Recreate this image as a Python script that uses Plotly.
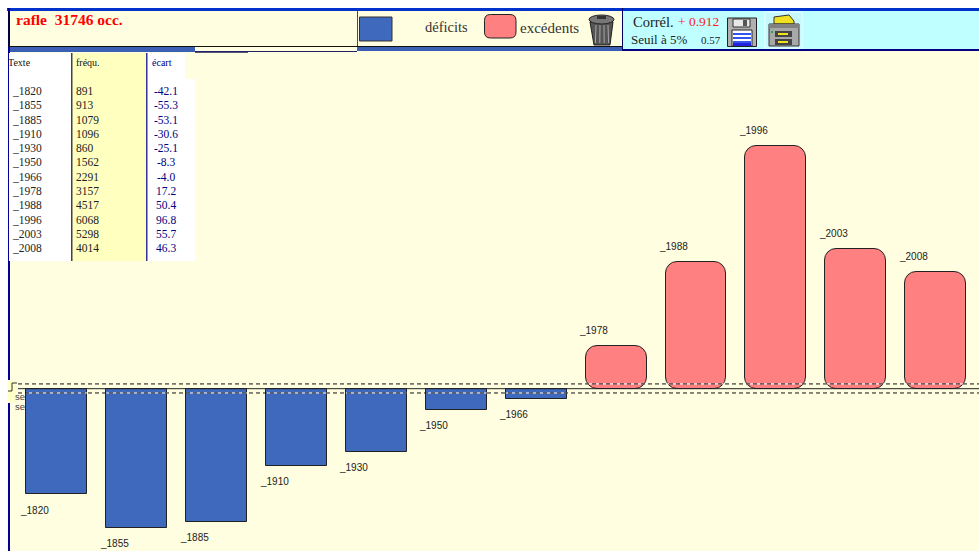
import plotly.graph_objects as go

years = ["_1820","_1855","_1885","_1910","_1930","_1950","_1966","_1978","_1988","_1996","_2003","_2008"]
freq = [891,913,1079,1096,860,1562,2291,3157,4517,6068,5298,4014]
ecart = [-42.1,-55.3,-53.1,-30.6,-25.1,-8.3,-4.0,17.2,50.4,96.8,55.7,46.3]
ecart_text = ["-42.1","-55.3","-53.1","-30.6","-25.1","-8.3","-4.0","17.2","50.4","96.8","55.7","46.3"]
seuil_haut = 1.9
seuil_bas = -1.7

W, H = 979, 551
BLUE, PINK, CREAM, CYAN = "#3F69BC", "#FF8080", "#FFFEE0", "#BFFFFF"
SERIF, SANS = "Liberation Serif", "Liberation Sans"
BAR_W = 0.763

def X(x): return x / W
def Y(y): return 1 - y / H

shapes, annots = [], []

def rect(x0, y0, x1, y1, fill, line=None, lw=1, layer="below"):
    shapes.append(dict(type="rect", xref="paper", yref="paper", x0=X(x0), x1=X(x1), y0=Y(y0), y1=Y(y1),
                       fillcolor=fill, line=dict(color=line or "rgba(0,0,0,0)", width=lw if line else 0), layer=layer))

def path(pts, fill=None, line=None, lw=1, close=True, layer="below"):
    d = "M" + " L".join(f"{X(a):.5f},{Y(b):.5f}" for a, b in pts) + (" Z" if close else "")
    shapes.append(dict(type="path", xref="paper", yref="paper", path=d,
                       fillcolor=fill or "rgba(0,0,0,0)",
                       line=dict(color=line or "rgba(0,0,0,0)", width=lw if line else 0), layer=layer))

def txt(x, y, s, size=10, color="#111", font=SERIF, anchor="left", bold=False):
    annots.append(dict(xref="paper", yref="paper", x=X(x), y=Y(y), text=f"<b>{s}</b>" if bold else s, showarrow=False,
                       xanchor=anchor, yanchor="middle", borderpad=0,
                       font=dict(family=font, size=size, color=color)))

# page and panels
rect(7, 8, W, H, CREAM)
rect(7, 8, W, 11, "#0033CC")
rect(8, 8, 10, 380, "#000099")
rect(8, 403, 10, H, "#000099")
rect(10, 11, 357, 46, CREAM)
rect(8, 11, 10, 47, "#000044")
rect(10, 46, 622, 47, "#111111")
rect(10, 47, 195, 52, "#3B5FB5")
rect(357, 47, 622, 51, "#3B5FB5")
rect(195, 51, 357, 52, "#222266")
rect(357, 11, 358, 46, "#FF0000")
rect(622, 11, W, 49, CYAN)
rect(622, 49, W, 51, "#000080")
rect(622, 8, 623, 51, "#000066")
rect(195, 52, 248, 53, "#555577")

# legend
rect(359.5, 17, 392, 41, BLUE, "#333333", 1)
x0, y0, x1, y1, r = 484.5, 14.5, 516, 38, 6
shapes.append(dict(type="path", xref="paper", yref="paper", fillcolor=PINK, line=dict(color="#222", width=1), layer="below",
    path=f"M{X(x0+r)},{Y(y0)} L{X(x1-r)},{Y(y0)} Q{X(x1)},{Y(y0)} {X(x1)},{Y(y0+r)} L{X(x1)},{Y(y1-r)} Q{X(x1)},{Y(y1)} {X(x1-r)},{Y(y1)} "
         f"L{X(x0+r)},{Y(y1)} Q{X(x0)},{Y(y1)} {X(x0)},{Y(y1-r)} L{X(x0)},{Y(y0+r)} Q{X(x0)},{Y(y0)} {X(x0+r)},{Y(y0)} Z"))
txt(424, 27, "déficits", 14.5, "#333")
txt(519, 28, "excédents", 15, "#333")
txt(15, 20, "rafle\u00a0 31746 occ.", 15.5, "#FF0000", bold=True)
txt(632, 22, "Corrél.", 14.5, "#222")
txt(677, 22, "+ 0.912", 13.5, "#FF2020")
txt(630, 39, "Seuil à 5%", 13, "#222")
txt(700, 40, "0.57", 11, "#222")

# trash icon
path([(590, 22), (613, 22), (610, 45), (594, 45)], "#555555", "#222222")
for vx in (596, 600, 604, 608):
    path([(vx, 25), (vx + (vx - 602) * 0.1, 43)], None, "#A8A8A8", 1, close=False)
shapes.append(dict(type="circle", xref="paper", yref="paper", x0=X(589), x1=X(614), y0=Y(15), y1=Y(24),
                   fillcolor="#777777", line=dict(color="#222222", width=1), layer="below"))
rect(597, 16, 606, 19, "#333333")

# disk icon
rect(727.5, 18, 756.5, 46.5, "#B0B0B0", "#222222", 1)
rect(733, 19, 750, 27, "#E8E8E8", "#333333", 1)
rect(743, 20, 747, 26, "#555555")
rect(732, 30, 752, 46, "#FFFFFF", "#222222", 1)
for sy in (33, 37, 41):
    rect(733, sy, 751, sy + 2, "#3355EE")
rect(733, 43, 751, 46, "#2222DD")

# printer icon
rect(765, 12, 802, 48, "#C8F8FF", "#E8FFFF", 1)
path([(774, 17), (789, 15), (794, 21), (794, 24), (774, 24)], "#F0E020", "#333333")
rect(769, 24, 799, 46, "#A8A8A8", "#333333", 1)
rect(769, 24, 799, 28, "#808080")
rect(771, 31, 773, 33, "#22AA44")
rect(775, 31, 792, 37, "#444444")
rect(778, 33, 788, 35, "#F0E020")
rect(775, 39, 792, 45, "#444444")
rect(778, 41, 788, 43, "#F0E020")

# table
rect(9, 53, 72, 261, "#FFFFFF")
rect(72, 53, 146, 261, "#FFFFC0")
rect(147, 53, 185, 79, "#FFFFFF")
rect(147, 79, 195, 261, "#FFFFFF")
rect(71, 53, 72.5, 261, "#444444")
rect(146, 53, 147.5, 261, "#333399")
txt(7, 62, "Texte", 10, "#111")
txt(75, 62, "fréqu.", 10, "#111")
txt(151, 62, "écart", 10, "#000080")
for i, (a, b, c) in enumerate(zip(years, freq, ecart_text)):
    ry = 91 + i * 14.28
    txt(11, ry, a, 11.5, "#222")
    txt(75, ry, str(b), 11.5, "#222")
    txt(165.5, ry, c, 11.5, "#000080", anchor="center")

# small fragment at the left of the baseline
rect(8, 381, 16, 402, "#FFFFC8")
path([(17, 383), (12, 383), (12, 391), (8, 391)], None, "#333333", 1, close=False)
txt(14, 396, "se", 9.5, "#444", SANS)
txt(14, 406, "se", 9.5, "#444", SANS)

# mapping of the value axis and category axis to the frame
PX_U = 2.51
BASE_PX = 388.7
y_top = BASE_PX / PX_U
y_bot = -(H - BASE_PX) / PX_U
x_lo = -56.8 / 79.9
x_hi = (W - 56.8) / 79.9

# threshold lines and baseline
for yv in (seuil_haut, seuil_bas):
    for i, v in enumerate(ecart):
        if (yv > 0) == (v > 0):
            shapes.append(dict(type="line", xref="x", yref="y", x0=i - BAR_W / 2, x1=i + BAR_W / 2, y0=yv, y1=yv,
                               line=dict(color="#FFFFFF", width=1), layer="above"))
    shapes.append(dict(type="line", xref="x", yref="y", x0=x_lo + 18 / 79.9, x1=x_hi, y0=yv, y1=yv,
                       line=dict(color="#111111", width=1, dash="4px,3px"), layer="above"))
shapes.append(dict(type="line", xref="x", yref="y", x0=x_lo + 18 / 79.9, x1=x_hi, y0=0, y1=0,
                   line=dict(color="#222222", width=1), layer="above"))

neg = [(y, v) for y, v in zip(years, ecart) if v < 0]
pos = [(y, v) for y, v in zip(years, ecart) if v > 0]

fig = go.Figure()
fig.add_bar(x=[n[0] for n in neg], y=[n[1] for n in neg], width=BAR_W, name="déficits",
            marker=dict(color=BLUE, line=dict(color="#222222", width=1)))
# a non-zero base makes plotly round both ends of each bar
fig.add_bar(x=[p[0] for p in pos], y=[p[1] for p in pos], base=[0.01] * len(pos), width=BAR_W, name="excédents",
            marker=dict(color=PINK, cornerradius=12, line=dict(color="#222222", width=1)))

for y, v in zip(years, ecart):
    annots.append(dict(xref="x", yref="y", x=y, y=v, text=y, showarrow=False, xanchor="left", yanchor="middle",
                       xshift=-39, yshift=15.5 if v > 0 else -16,
                       font=dict(family=SANS, size=10, color="#222")))

fig.update_layout(
    width=W, height=H, autosize=False, margin=dict(l=0, r=0, t=0, b=0),
    paper_bgcolor="#FFFFFF", plot_bgcolor="rgba(0,0,0,0)",
    barmode="overlay", showlegend=False, bargap=0,
    xaxis=dict(type="category", categoryorder="array", categoryarray=years, range=[x_lo, x_hi], visible=False, fixedrange=True),
    yaxis=dict(range=[y_bot, y_top], visible=False, fixedrange=True),
    shapes=shapes, annotations=annots,
)
fig.write_html("out.html", config=dict(displayModeBar=False),
               post_script="document.body.style.margin='0';document.body.style.overflow='hidden';")
